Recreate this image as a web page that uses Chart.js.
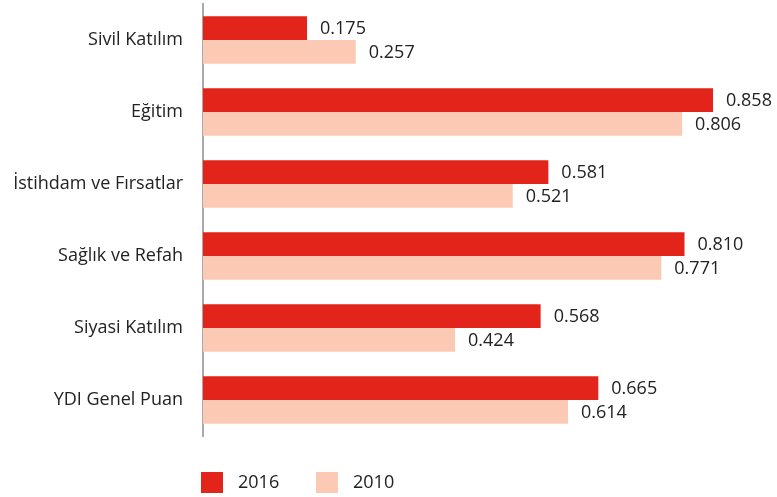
<!DOCTYPE html>
<html>
<head>
<meta charset="utf-8">
<script src="https://cdn.jsdelivr.net/npm/chart.js@4"></script>
<style>
  html, body { margin: 0; padding: 0; background: #fff; }
  #wrap { width: 777px; height: 497px; }
</style>
</head>
<body>
<div id="wrap"><canvas id="chart" width="777" height="497"></canvas></div>
<script>
"use strict";

const categories = [
  "Sivil Katılım",
  "Eğitim",
  "İstihdam ve Fırsatlar",
  "Sağlık ve Refah",
  "Siyasi Katılım",
  "YDI Genel Puan",
];
const seriesNames = ["2016", "2010"];
const values2016 = [0.175, 0.858, 0.581, 0.810, 0.568, 0.665];
const values2010 = [0.257, 0.806, 0.521, 0.771, 0.424, 0.614];

const RED = "#e3241b";
const PINK = "#fbc9b4";
const FONT = "'Open Sans', 'Noto Sans', sans-serif";
const FONT_SIZE = 18;

// value labels right of every bar
const valueLabels = {
  id: "valueLabels",
  afterDatasetsDraw(chart) {
    const ctx = chart.ctx;
    ctx.save();
    ctx.font = FONT_SIZE + "px " + FONT;
    ctx.fillStyle = "#222";
    ctx.textBaseline = "middle";
    ctx.textAlign = "left";
    chart.data.datasets.forEach((ds, i) => {
      chart.getDatasetMeta(i).data.forEach((bar, j) => {
        ctx.fillText(ds.data[j].toFixed(3), bar.x + 13, bar.y + 1);
      });
    });
    ctx.restore();
  },
};

// legend at bottom, under the axis
const bottomLegend = {
  id: "bottomLegend",
  afterDraw(chart) {
    const ctx = chart.ctx;
    ctx.save();
    ctx.font = FONT_SIZE + "px " + FONT;
    ctx.textBaseline = "middle";
    let x = 201;
    chart.data.datasets.forEach((ds) => {
      ctx.fillStyle = ds.backgroundColor;
      ctx.fillRect(x, 472, 22, 21);
      ctx.fillStyle = "#222";
      ctx.fillText(ds.label, x + 37, 483);
      x += 115;
    });
    ctx.restore();
  },
};

new Chart(document.getElementById("chart"), {
  type: "bar",
  data: {
    labels: categories,
    datasets: [
      { label: seriesNames[0], data: values2016, backgroundColor: RED },
      { label: seriesNames[1], data: values2010, backgroundColor: PINK },
    ],
  },
  options: {
    indexAxis: "y",
    responsive: false,
    animation: false,
    layout: { padding: { top: 4, bottom: 61, right: 39, left: 0 } },
    datasets: {
      bar: { categoryPercentage: 0.66, barPercentage: 1.0 },
    },
    plugins: {
      legend: { display: false },
      tooltip: { enabled: false },
    },
    scales: {
      x: { display: false, min: 0, max: 0.9 },
      y: {
        grid: { display: false, drawTicks: false },
        border: { display: true, color: "#aaa", width: 2 },
        ticks: {
          padding: 20,
          color: "#222",
          font: { family: FONT, size: FONT_SIZE },
        },
        afterFit(scale) {
          scale.width = 203;
          scale.paddingTop = 0;
          scale.paddingBottom = 0;
        },
      },
    },
  },
  plugins: [valueLabels, bottomLegend],
});
</script>
</body>
</html>
